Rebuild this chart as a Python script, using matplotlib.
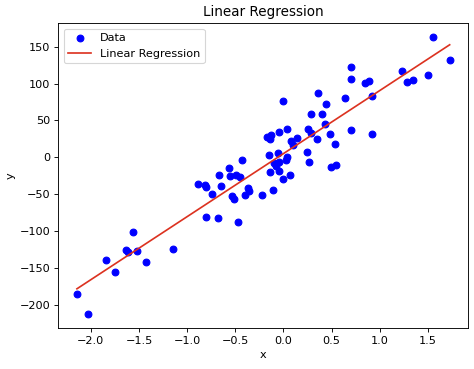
import numpy as np
import matplotlib
matplotlib.use("Agg")
import matplotlib.pyplot as plt

# values
x_vals = [
    -2.145, -2.031, -1.841, -1.748, -1.634, -1.610, -1.558, -1.517, -1.426, -1.149,
    -0.892, -0.810, -0.800, -0.745, -0.648, -0.807, -0.683, -0.535, -0.510, -0.470,
    -0.669, -0.570, -0.550, -0.495, -0.455, -0.427, -0.395, -0.370, -0.358, -0.224,
    -0.112, -0.140, -0.147, -0.166, -0.130, -0.140, -0.044, 0.042, -0.054, -0.100,
    -0.050, -0.075, -0.047, 0.035, 0.030, -0.008, 0.065, 0.078, 0.137, 0.102,
    -0.002, 0.241, 0.261, 0.490, 0.545, 0.257, 0.290, 0.344, 0.482, 0.534,
    0.697, 0.915, 0.285, 0.399, 0.430, 0.361, 0.441, 0.638, 0.707, 0.700,
    0.845, 0.887, 0.915, 1.236, 1.288, 1.347, 1.506, 1.554, 1.727,
]
y_vals = [
    -184.7, -212.6, -139.6, -155.4, -125.2, -128.0, -101.8, -126.6, -141.9, -124.3,
    -35.8, -37.5, -40.5, -50.0, -39.0, -80.6, -82.0, -52.7, -56.0, -87.4,
    -24.5, -14.2, -25.0, -23.5, -26.6, -3.2, -51.0, -41.5, -46.0, -51.0,
    -43.7, -19.8, 3.5, 28.0, 29.7, 24.5, 34.8, 38.2, 5.5, -8.0,
    -6.0, -11.5, -18.0, 1.0, -3.0, -29.8, -24.3, 22.5, 26.1, 16.2,
    76.1, 7.5, -6.8, -13.1, -9.9, 38.0, 33.5, 25.3, 31.1, 18.5,
    37.0, 31.5, 59.0, 58.1, 44.6, 87.4, 72.6, 80.7, 123.0, 106.3,
    100.4, 103.1, 83.4, 116.6, 101.8, 105.0, 112.2, 163.5, 132.0,
]

X = np.array(x_vals)
y = np.array(y_vals)

# least squares fit, like the regression model in the original
slope, intercept = np.polyfit(X, y, 1)
order = np.argsort(X)
y_pred = slope * X[order] + intercept

DPI = 81
fig, ax = plt.subplots(figsize=(474 / DPI, 369 / DPI), dpi=DPI)
ax.scatter(X, y, color="blue", label="Data")
ax.plot(X[order], y_pred, color="#dc3220", label="Linear Regression")
ax.set_xlabel("x")
ax.set_ylabel("y")
ax.set_title("Linear Regression")
ax.legend(loc="upper left")
fig.subplots_adjust(left=0.123, right=0.988, bottom=0.111, top=0.938)
fig.savefig("out.png", dpi=DPI)
